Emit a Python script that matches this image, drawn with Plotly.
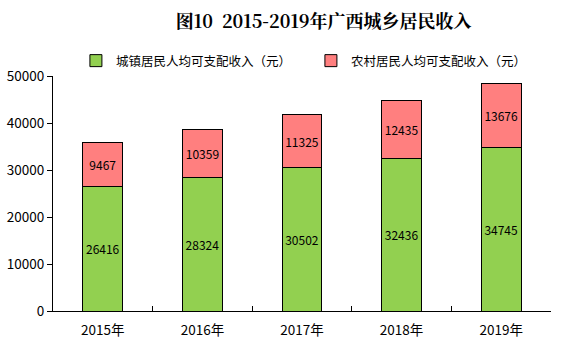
import plotly.graph_objects as go

years = ["2015年", "2016年", "2017年", "2018年", "2019年"]
urban = [26416, 28324, 30502, 32436, 34745]
rural = [9467, 10359, 11325, 12435, 13676]
urban_name = "城镇居民人均可支配收入（元）"
rural_name = "农村居民人均可支配收入（元）"
title = "图10  2015-2019年广西城乡居民收入"

font_family = "SimSun, 'Noto Sans CJK SC', sans-serif"

fig = go.Figure()
fig.add_trace(go.Bar(
    x=years, y=urban, name=urban_name,
    marker=dict(color="#92D050", line=dict(color="black", width=1)),
    text=[str(v) for v in urban], textposition="inside", insidetextanchor="middle",
    textangle=0, constraintext="none",
    textfont=dict(color="black", size=12, family=font_family),
    width=0.4,
))
fig.add_trace(go.Bar(
    x=years, y=rural, name=rural_name,
    marker=dict(color="#FF7F7F", line=dict(color="black", width=1)),
    text=[str(v) for v in rural], textposition="inside", insidetextanchor="middle",
    textangle=0, constraintext="none",
    textfont=dict(color="black", size=12, family=font_family),
    width=0.4,
))

fig.update_layout(
    barmode="stack",
    width=578, height=354,
    margin=dict(l=53, r=27, t=76, b=43, autoexpand=False),
    paper_bgcolor="white", plot_bgcolor="white",
    font=dict(family=font_family, size=12, color="black"),
    title=dict(text="<b>" + title + "</b>", x=0.56, xanchor="center", y=0.94, yanchor="middle",
               font=dict(size=18, color="black", family="'Noto Serif CJK SC', 'Noto Sans CJK SC', serif")),
    legend=dict(orientation="h", x=0.046, xanchor="left", y=1.0, yanchor="bottom",
                entrywidth=190, entrywidthmode="pixels", font=dict(size=12.5),
                traceorder="normal", itemwidth=30),
    uniformtext=dict(mode="show", minsize=11),
)
fig.update_xaxes(
    showline=True, linecolor="black", linewidth=1,
    ticks="inside", tickson="boundaries", ticklen=5, tickcolor="black",
    showgrid=False, tickfont=dict(size=13.5), ticklabelstandoff=7,
    automargin=False,
)
fig.update_yaxes(
    range=[0, 50000], dtick=10000,
    showline=True, linecolor="black", linewidth=1,
    ticks="outside", ticklen=5, tickcolor="black",
    showgrid=False, tickformat="d", tickfont=dict(size=13.5),
    zeroline=False, automargin=False,
)

fig.write_html("out.html")
